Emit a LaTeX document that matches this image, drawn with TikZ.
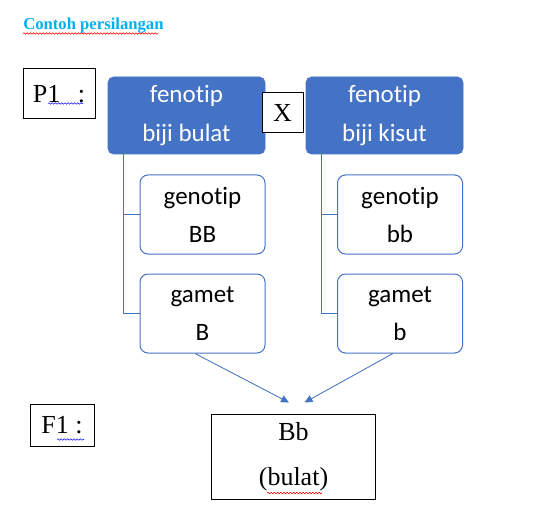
\documentclass[tikz,border=0pt]{standalone}
\usepackage{fontspec}
\setmainfont{Liberation Serif}
\newfontfamily\calibri[Ligatures=NoCommon]{Carlito}
\usetikzlibrary{arrows.meta,positioning,calc,decorations.pathmorphing}
\definecolor{wordBlue}{HTML}{4472C4}
\definecolor{titleCyan}{HTML}{00B0F0}
\definecolor{spellRed}{HTML}{FF0000}
\definecolor{spellBlue}{HTML}{2020FF}

\begin{document}
\begin{tikzpicture}[
  x=0.75pt, y=-0.75pt,
  >=Triangle,
  fenbox/.style={
    fill=wordBlue, draw=wordBlue, rounded corners=4pt,
    minimum width=117.75pt, minimum height=57.75pt, inner sep=0pt,
    text=white, align=center, font=\calibri\fontsize{18.75}{29.25}\selectfont
  },
  genbox/.style={
    fill=white, draw=wordBlue, line width=0.75pt, rounded corners=6pt,
    minimum width=93.75pt, minimum height=59.25pt, inner sep=0pt,
    align=center, font=\calibri\fontsize{18.75}{28.5}\selectfont
  },
  plainbox/.style={
    draw=black, line width=0.75pt, fill=white, inner sep=0pt, align=center,
    font=\fontsize{19.5}{33.75}\selectfont
  },
  tree/.style={draw=wordBlue, line width=0.75pt},
  arr/.style={-{Triangle[length=6pt,width=5.5pt]}, draw=wordBlue, fill=wordBlue, line width=0.6pt},
  squig/.style={line width=0.45pt, decorate,
    decoration={snake, amplitude=0.55pt, segment length=2.4pt}}
]
\useasboundingbox (0,0) rectangle (541,516);

% Heading
\node[anchor=base west, inner sep=0pt, text=titleCyan,
      font=\bfseries\fontsize{12.5}{14}\selectfont] (title) at (23,30) {Contoh persilangan};
\draw[squig, spellRed] (23,33.5) -- (158,33.5);

% Parents
\node[plainbox, minimum width=54pt, minimum height=37.5pt] (pone) at (59,94) {P1\hspace{13pt}:};
\draw[squig, spellBlue] (48,103.5) -- (83,103.5);

\node[fenbox] (fenL) at (186.5,115.5) {fenotip\\biji bulat};
\node[fenbox] (fenR) at (384.5,115.5) {fenotip\\biji kisut};
\node[plainbox, minimum width=30.75pt, minimum height=30pt] (cross) at (282.5,113) {X};

\node[genbox] (genL) at (202.5,214.5) {genotip\\BB};
\node[genbox] (gamL) at (202.5,313.5) {gamet\\B};
\node[genbox] (genR) at (400,214.5) {genotip\\bb};
\node[genbox] (gamR) at (400,313.5) {gamet\\b};

% Tree lines
\draw[tree] ([shift={(-63.5,0)}]fenL.south) |- (genL.west);
\draw[tree] ([shift={(-63.5,0)}]fenL.south) |- (gamL.west);
\draw[tree] ([shift={(-63,0)}]fenR.south) |- (genR.west);
\draw[tree] ([shift={(-63,0)}]fenR.south) |- (gamR.west);

% Offspring
\node[plainbox, minimum width=48pt, minimum height=31.5pt] (fone) at (62,425) {F1 :};
\draw[squig, spellBlue] (57,439.5) -- (84,439.5);

\node[plainbox, minimum width=123pt, minimum height=63.75pt] (bb) at (293.5,456.5) {Bb\\(bulat)};
\draw[squig, spellRed] (267,493) -- (322,493);

\draw[arr] ([shift={(-7.5,0)}]gamL.south) -- ([shift={(-4.5,-11)}]bb.north);
\draw[arr] ([shift={(-7,0)}]gamR.south) -- ([shift={(11,-11)}]bb.north);

\end{tikzpicture}
\end{document}
